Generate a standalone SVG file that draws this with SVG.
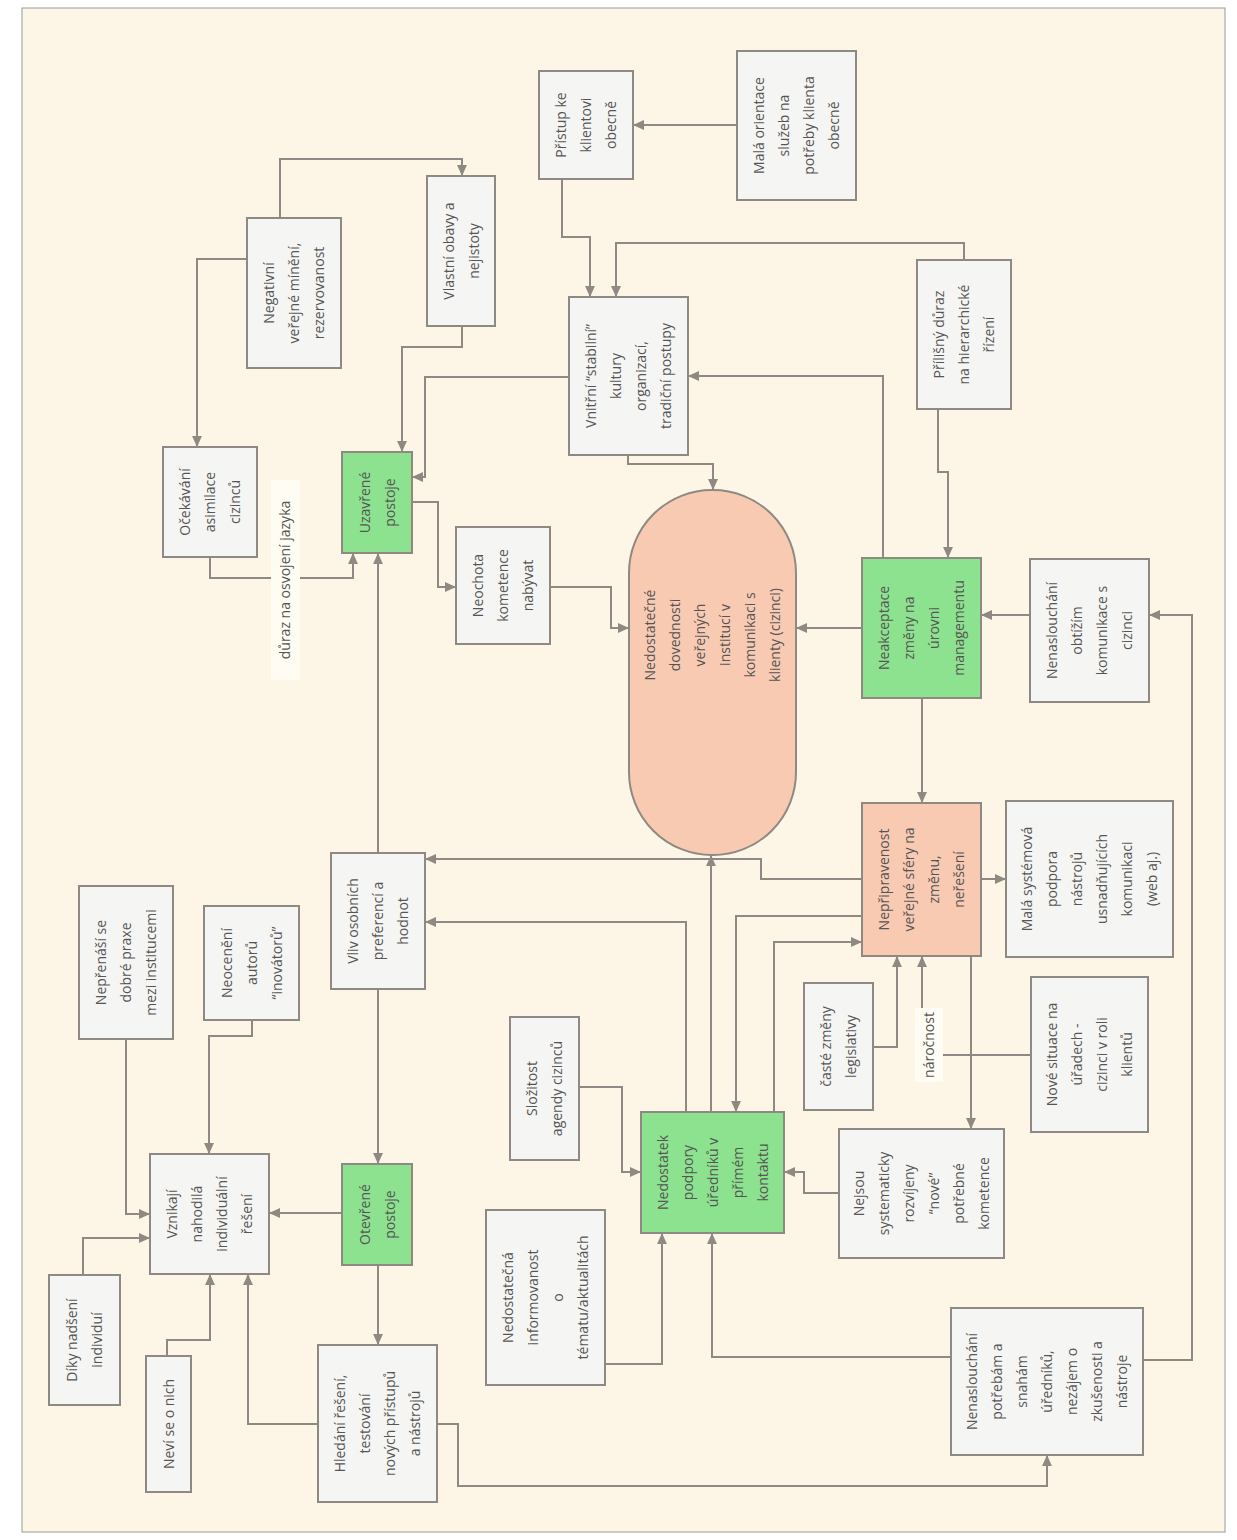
<svg xmlns="http://www.w3.org/2000/svg" width="1237" height="1540" viewBox="0 0 1237 1540">
<style>
.bx{fill:#f5f5f3;stroke:#8e8a83;stroke-width:2}
.gr{fill:#8ce28e;stroke:#8e8a83;stroke-width:2}
.sa{fill:#f9cab2;stroke:#8e8a83;stroke-width:2}
.t{font-family:"Open Sans","DejaVu Sans",sans-serif;font-size:14px;fill:#555;text-anchor:middle}
.c{fill:none;stroke:#8e8a83;stroke-width:2;marker-end:url(#ah)}
.lb{fill:#fffcf4}
</style>
<defs>
<marker id="ah" viewBox="0 0 10 10" refX="10" refY="5" markerWidth="11" markerHeight="11" markerUnits="userSpaceOnUse" orient="auto">
<path d="M0,0.5 L10,5 L0,9.5 z" fill="#8e8a83"/>
</marker>
</defs>
<rect x="0" y="0" width="1237" height="1540" fill="#ffffff"/>
<rect x="22" y="8" width="1203" height="1524" fill="#fdf5e5" stroke="#9a9a9a" stroke-width="1"/>

<g id="connectors">
<polyline class="c" points="737,125 633,125"/>
<polyline class="c" points="562,179 562,237 590,237 590,297"/>
<polyline class="c" points="964,260 964,243 616,243 616,297"/>
<polyline class="c" points="280,218 280,159 462,159 462,176"/>
<polyline class="c" points="247,259 197,259 197,447"/>
<polyline class="c" points="462,326 462,347 402,347 402,452"/>
<polyline class="c" points="569,377 425,377 425,477 412,477"/>
<polyline class="c" points="883,558 883,376 688,376"/>
<polyline class="c" points="628,455 628,464 713,464 713,490"/>
<polyline class="c" points="938,409 938,472 948,472 948,558"/>
<polyline class="c" points="210,557 210,578 353,578 353,553"/>
<polyline class="c" points="378,853 378,553"/>
<polyline class="c" points="412,502 438,502 438,587 456,587"/>
<polyline class="c" points="550,587 611,587 611,628 629,628"/>
<polyline class="c" points="862,628 796,628"/>
<polyline class="c" points="1030,615 981,615"/>
<polyline class="c" points="922,698 922,803"/>
<polyline class="c" points="862,879 761,879 761,859 425,859"/>
<polyline class="c" points="686,1112 686,922 425,922"/>
<polyline class="c" points="711,1112 711,855"/>
<polyline class="c" points="862,916 736,916 736,1112"/>
<polyline class="c" points="774,1112 774,942 862,942"/>
<polyline class="c" points="981,879 1006,879"/>
<polyline class="c" points="873,1047 897,1047 897,956"/>
<polyline class="c" points="1031,1055 922,1055 922,956"/>
<polyline class="c" points="971,956 971,1129"/>
<polyline class="c" points="839,1193 804,1193 804,1172 784,1172"/>
<polyline class="c" points="579,1087 622,1087 622,1172 641,1172"/>
<polyline class="c" points="605,1364 662,1364 662,1233"/>
<polyline class="c" points="951,1357 712,1357 712,1233"/>
<polyline class="c" points="1143,1360 1192,1360 1192,615 1149,615"/>
<polyline class="c" points="378,989 378,1164"/>
<polyline class="c" points="342,1213 269,1213"/>
<polyline class="c" points="378,1265 378,1345"/>
<polyline class="c" points="252,1020 252,1036 209,1036 209,1154"/>
<polyline class="c" points="126,1039 126,1214 150,1214"/>
<polyline class="c" points="83,1275 83,1238 150,1238"/>
<polyline class="c" points="167,1356 167,1340 210,1340 210,1274"/>
<polyline class="c" points="318,1424 248,1424 248,1274"/>
<polyline class="c" points="437,1424 458,1424 458,1486 1047,1486 1047,1455"/>
<g id="label-duraz">
<rect class="lb" x="271" y="480" width="29" height="200"/>
<text class="t" transform="translate(285,580) rotate(-90)"><tspan x="0" y="5">důraz na osvojení jazyka</tspan></text>
</g>
<g id="label-narocnost">
<rect class="lb" x="915" y="1008" width="28" height="74"/>
<text class="t" transform="translate(929,1045) rotate(-90)"><tspan x="0" y="5">náročnost</tspan></text>
</g>
</g>

<g id="n-pristup">
<rect class="bx" x="539" y="71" width="94" height="108"/>
<text class="t" transform="translate(586,125) rotate(-90)"><tspan x="0" y="-20">Přístup ke</tspan><tspan x="0" y="5">klientovi</tspan><tspan x="0" y="30">obecně</tspan></text>
</g>
<g id="n-mala-orientace">
<rect class="bx" x="737" y="51" width="119" height="149"/>
<text class="t" transform="translate(796.5,125.5) rotate(-90)"><tspan x="0" y="-32.5">Malá orientace</tspan><tspan x="0" y="-7.5">služeb na</tspan><tspan x="0" y="17.5">potřeby klienta</tspan><tspan x="0" y="42.5">obecně</tspan></text>
</g>
<g id="n-negativni">
<rect class="bx" x="247" y="218" width="94" height="150"/>
<text class="t" transform="translate(294,293) rotate(-90)"><tspan x="0" y="-20">Negativní</tspan><tspan x="0" y="5">veřejné mínění,</tspan><tspan x="0" y="30">rezervovanost</tspan></text>
</g>
<g id="n-vlastni">
<rect class="bx" x="427" y="176" width="68" height="150"/>
<text class="t" transform="translate(461,251) rotate(-90)"><tspan x="0" y="-7.5">Vlastní obavy a</tspan><tspan x="0" y="17.5">nejistoty</tspan></text>
</g>
<g id="n-vnitrni">
<rect class="bx" x="569" y="297" width="119" height="158"/>
<text class="t" transform="translate(628.5,376) rotate(-90)"><tspan x="0" y="-32.5">Vnitřní “stabilní”</tspan><tspan x="0" y="-7.5">kultury</tspan><tspan x="0" y="17.5">organizací,</tspan><tspan x="0" y="42.5">tradiční postupy</tspan></text>
</g>
<g id="n-prilisny">
<rect class="bx" x="917" y="260" width="94" height="149"/>
<text class="t" transform="translate(964,334.5) rotate(-90)"><tspan x="0" y="-20">Přílišný důraz</tspan><tspan x="0" y="5">na hierarchické</tspan><tspan x="0" y="30">řízení</tspan></text>
</g>
<g id="n-ocekavani">
<rect class="bx" x="163" y="447" width="94" height="110"/>
<text class="t" transform="translate(210,502) rotate(-90)"><tspan x="0" y="-20">Očekávání</tspan><tspan x="0" y="5">asimilace</tspan><tspan x="0" y="30">cizinců</tspan></text>
</g>
<g id="n-uzavrene">
<rect class="gr" x="342" y="452" width="70" height="101"/>
<text class="t" transform="translate(377,502.5) rotate(-90)"><tspan x="0" y="-7.5">Uzavřené</tspan><tspan x="0" y="17.5">postoje</tspan></text>
</g>
<g id="n-neochota">
<rect class="bx" x="456" y="527" width="94" height="117"/>
<text class="t" transform="translate(503,585.5) rotate(-90)"><tspan x="0" y="-20">Neochota</tspan><tspan x="0" y="5">kometence</tspan><tspan x="0" y="30">nabývat</tspan></text>
</g>
<g id="n-nedostatecne-dovednosti">
<rect class="sa" x="629" y="490" width="167" height="365" rx="83" ry="83"/>
<text class="t" transform="translate(712.5,635) rotate(-90)"><tspan x="0" y="-57.5">Nedostatečné</tspan><tspan x="0" y="-32.5">dovednosti</tspan><tspan x="0" y="-7.5">veřejných</tspan><tspan x="0" y="17.5">institucí v</tspan><tspan x="0" y="42.5">komunikaci s</tspan><tspan x="0" y="67.5">klienty (cizinci)</tspan></text>
</g>
<g id="n-neakceptace">
<rect class="gr" x="862" y="558" width="119" height="140"/>
<text class="t" transform="translate(921.5,628) rotate(-90)"><tspan x="0" y="-32.5">Neakceptace</tspan><tspan x="0" y="-7.5">změny na</tspan><tspan x="0" y="17.5">úrovni</tspan><tspan x="0" y="42.5">managementu</tspan></text>
</g>
<g id="n-nenaslouchani-obtizim">
<rect class="bx" x="1030" y="559" width="119" height="143"/>
<text class="t" transform="translate(1089.5,630.5) rotate(-90)"><tspan x="0" y="-32.5">Nenaslouchání</tspan><tspan x="0" y="-7.5">obtížím</tspan><tspan x="0" y="17.5">komunikace s</tspan><tspan x="0" y="42.5">cizinci</tspan></text>
</g>
<g id="n-vliv">
<rect class="bx" x="331" y="853" width="94" height="136"/>
<text class="t" transform="translate(378,921) rotate(-90)"><tspan x="0" y="-20">Vliv osobních</tspan><tspan x="0" y="5">preferencí a</tspan><tspan x="0" y="30">hodnot</tspan></text>
</g>
<g id="n-nepripravenost">
<rect class="sa" x="862" y="803" width="119" height="153"/>
<text class="t" transform="translate(921.5,879.5) rotate(-90)"><tspan x="0" y="-32.5">Nepřipravenost</tspan><tspan x="0" y="-7.5">veřejné sféry na</tspan><tspan x="0" y="17.5">změnu,</tspan><tspan x="0" y="42.5">neřešení</tspan></text>
</g>
<g id="n-mala-systemova">
<rect class="bx" x="1006" y="801" width="167" height="156"/>
<text class="t" transform="translate(1089.5,879) rotate(-90)"><tspan x="0" y="-57.5">Malá systémová</tspan><tspan x="0" y="-32.5">podpora</tspan><tspan x="0" y="-7.5">nástrojů</tspan><tspan x="0" y="17.5">usnadňujících</tspan><tspan x="0" y="42.5">komunikaci</tspan><tspan x="0" y="67.5">(web aj.)</tspan></text>
</g>
<g id="n-caste-zmeny">
<rect class="bx" x="804" y="983" width="69" height="127"/>
<text class="t" transform="translate(838.5,1046.5) rotate(-90)"><tspan x="0" y="-7.5">časté změny</tspan><tspan x="0" y="17.5">legislativy</tspan></text>
</g>
<g id="n-nove-situace">
<rect class="bx" x="1031" y="977" width="117" height="155"/>
<text class="t" transform="translate(1089.5,1054.5) rotate(-90)"><tspan x="0" y="-32.5">Nové situace na</tspan><tspan x="0" y="-7.5">úřadech -</tspan><tspan x="0" y="17.5">cizinci v roli</tspan><tspan x="0" y="42.5">klientů</tspan></text>
</g>
<g id="n-nejsou">
<rect class="bx" x="839" y="1129" width="165" height="129"/>
<text class="t" transform="translate(921.5,1193.5) rotate(-90)"><tspan x="0" y="-57.5">Nejsou</tspan><tspan x="0" y="-32.5">systematicky</tspan><tspan x="0" y="-7.5">rozvíjeny</tspan><tspan x="0" y="17.5">“nové”</tspan><tspan x="0" y="42.5">potřebné</tspan><tspan x="0" y="67.5">kometence</tspan></text>
</g>
<g id="n-nedostatek-podpory">
<rect class="gr" x="641" y="1112" width="143" height="121"/>
<text class="t" transform="translate(712.5,1172.5) rotate(-90)"><tspan x="0" y="-45">Nedostatek</tspan><tspan x="0" y="-20">podpory</tspan><tspan x="0" y="5">úředníků v</tspan><tspan x="0" y="30">přímém</tspan><tspan x="0" y="55">kontaktu</tspan></text>
</g>
<g id="n-slozitost">
<rect class="bx" x="510" y="1017" width="69" height="143"/>
<text class="t" transform="translate(544.5,1088.5) rotate(-90)"><tspan x="0" y="-7.5">Složitost</tspan><tspan x="0" y="17.5">agendy cizinců</tspan></text>
</g>
<g id="n-nedostatecna-informovanost">
<rect class="bx" x="486" y="1210" width="119" height="175"/>
<text class="t" transform="translate(545.5,1297.5) rotate(-90)"><tspan x="0" y="-32.5">Nedostatečná</tspan><tspan x="0" y="-7.5">informovanost</tspan><tspan x="0" y="17.5">o</tspan><tspan x="0" y="42.5">tématu/aktualitách</tspan></text>
</g>
<g id="n-nenaslouchani-potrebam">
<rect class="bx" x="951" y="1308" width="192" height="147"/>
<text class="t" transform="translate(1047,1381.5) rotate(-90)"><tspan x="0" y="-70">Nenaslouchání</tspan><tspan x="0" y="-45">potřebám a</tspan><tspan x="0" y="-20">snahám</tspan><tspan x="0" y="5">úředníků,</tspan><tspan x="0" y="30">nezájem o</tspan><tspan x="0" y="55">zkušenosti a</tspan><tspan x="0" y="80">nástroje</tspan></text>
</g>
<g id="n-otevrene">
<rect class="gr" x="342" y="1164" width="70" height="101"/>
<text class="t" transform="translate(377,1214.5) rotate(-90)"><tspan x="0" y="-7.5">Otevřené</tspan><tspan x="0" y="17.5">postoje</tspan></text>
</g>
<g id="n-vznikaji">
<rect class="bx" x="150" y="1154" width="119" height="120"/>
<text class="t" transform="translate(209.5,1214) rotate(-90)"><tspan x="0" y="-32.5">Vznikají</tspan><tspan x="0" y="-7.5">nahodilá</tspan><tspan x="0" y="17.5">individuální</tspan><tspan x="0" y="42.5">řešení</tspan></text>
</g>
<g id="n-neoceneni">
<rect class="bx" x="204" y="906" width="95" height="114"/>
<text class="t" transform="translate(251.5,963) rotate(-90)"><tspan x="0" y="-20">Neocenění</tspan><tspan x="0" y="5">autorů</tspan><tspan x="0" y="30">“inovátorů”</tspan></text>
</g>
<g id="n-neprenasi">
<rect class="bx" x="79" y="886" width="94" height="153"/>
<text class="t" transform="translate(126,962.5) rotate(-90)"><tspan x="0" y="-20">Nepřenáší se</tspan><tspan x="0" y="5">dobré praxe</tspan><tspan x="0" y="30">mezi institucemi</tspan></text>
</g>
<g id="n-diky">
<rect class="bx" x="49" y="1275" width="71" height="130"/>
<text class="t" transform="translate(84.5,1340) rotate(-90)"><tspan x="0" y="-7.5">Díky nadšení</tspan><tspan x="0" y="17.5">individuí</tspan></text>
</g>
<g id="n-nevi">
<rect class="bx" x="146" y="1356" width="45" height="136"/>
<text class="t" transform="translate(168.5,1424) rotate(-90)"><tspan x="0" y="5">Neví se o nich</tspan></text>
</g>
<g id="n-hledani">
<rect class="bx" x="318" y="1345" width="119" height="157"/>
<text class="t" transform="translate(377.5,1423.5) rotate(-90)"><tspan x="0" y="-32.5">Hledání řešení,</tspan><tspan x="0" y="-7.5">testování</tspan><tspan x="0" y="17.5">nových přístupů</tspan><tspan x="0" y="42.5">a nástrojů</tspan></text>
</g>
</svg>
